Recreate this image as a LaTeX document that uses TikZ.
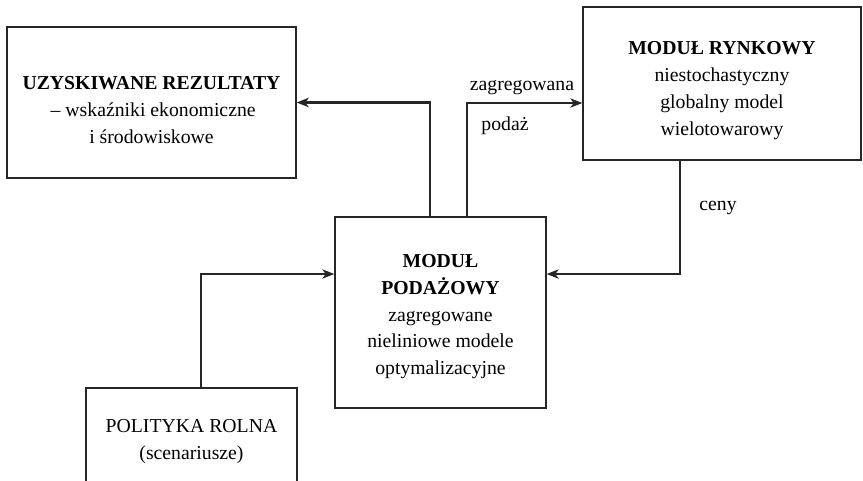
\documentclass[tikz,border=0pt]{standalone}
\usepackage{fontspec}
\setmainfont{Liberation Serif}
\usetikzlibrary{arrows.meta,calc}
\begin{document}
\begin{tikzpicture}[x=0.75pt,y=-0.75pt,
  box/.style={draw=black!85,line width=1pt,align=center,inner sep=0pt,
    font=\fontsize{14.8}{20.2}\selectfont},
  conn/.style={draw=black!85,line width=1pt,-{Stealth[length=9pt,width=7pt,inset=2.5pt]}},
  thickconn/.style={conn,line width=1.6pt},
  lbl/.style={font=\fontsize{14.8}{20}\selectfont,inner sep=0pt}]
\useasboundingbox (0,0) rectangle (863,480);
\node[box,minimum width=289*0.75pt,minimum height=151*0.75pt] (uzy) at (151.5,102.5)
  {\rule{0pt}{20.5pt}\\[-20.2pt]\textbf{UZYSKIWANE REZULTATY}\\\,– wskaźniki ekonomiczne\\i środowiskowe};
\node[box,minimum width=278*0.75pt,minimum height=153*0.75pt] (ryn) at (722,83.5)
  {\rule{0pt}{20.5pt}\\[-20.2pt]\textbf{MODUŁ RYNKOWY}\\niestochastyczny\\globalny model\\wielotowarowy};
\node[box,minimum width=211*0.75pt,minimum height=191*0.75pt] (pod) at (440.5,312.5)
  {\rule{0pt}{16pt}\\[-20.2pt]\textbf{MODUŁ}\\\textbf{PODAŻOWY}\\zagregowane\\nieliniowe modele\\optymalizacyjne};
\node[box,minimum width=211*0.75pt,minimum height=108*0.75pt] (pol) at (191.5,442)
  {POLITYKA ROLNA\\(scenariusze)};
\draw[thickconn] ($(pod.north)+(-10.5,0)$) |- (uzy.east);
\draw[conn] ($(pod.north)+(26.5,0)$) |- ($(ryn.west)+(0,19.5)$);
\draw[conn] ($(ryn.south)+(-42,0)$) |- ($(pod.east)+(0,-38.5)$);
\draw[conn] ($(pol.north)+(9.5,0)$) |- ($(pod.west)+(0,-38.5)$);
\node[lbl] (zag) at (522,88) {zagregowana};
\node[lbl] (podaz) at (505,126) {podaż};
\node[lbl] (ceny) at (718,208) {ceny};
\end{tikzpicture}
\end{document}
